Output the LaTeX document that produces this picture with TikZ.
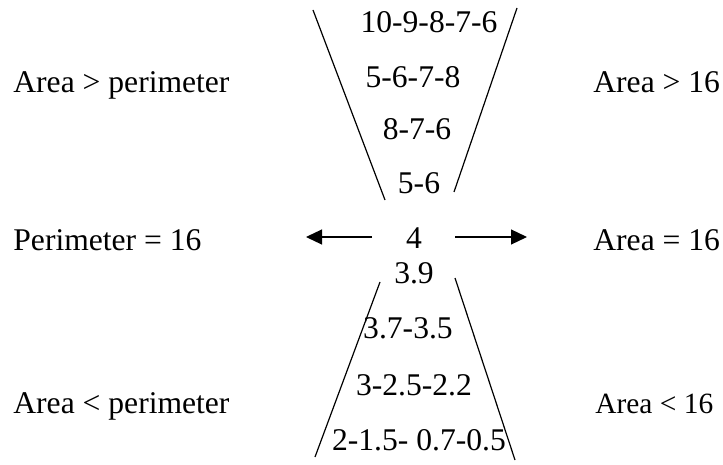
\documentclass[tikz,border=0pt]{standalone}
\usepackage{fontspec}
\setmainfont{Liberation Serif}
\usepackage{tikz}
\usetikzlibrary{arrows.meta}
\tikzset{
  numTxt/.style={anchor=base, inner sep=0pt, font=\fontsize{15.8}{19}\selectfont},
  sideTxt/.style={anchor=base west, inner sep=0pt, font=\fontsize{15.8}{19}\selectfont},
  funnel/.style={line width=0.6pt},
  pointer/.style={line width=0.6pt, -{Triangle[length=8pt,width=7.5pt]}}
}

\begin{document}
\begin{tikzpicture}[x=0.5pt, y=-0.5pt]
  \useasboundingbox (0,0) rectangle (723,465);
  % Upper funnel
  \draw[funnel] (313,10) -- (385,200);
  \draw[funnel] (517,8) -- (454,192);
  \node[numTxt] (up1) at (429,33) {10-9-8-7-6};
  \node[numTxt] (up2) at (413,88) {5-6-7-8};
  \node[numTxt] (up3) at (417,140) {8-7-6};
  \node[numTxt] (up4) at (419,193) {5-6};
  % Centre value and arrows
  \node[numTxt] (four) at (414,248) {4};
  \coordinate (arrL) at (372,237);
  \coordinate (arrLtip) at (306,237);
  \coordinate (arrR) at (455,237);
  \coordinate (arrRtip) at (527,237);
  \draw[pointer] (arrL) -- (arrLtip);
  \draw[pointer] (arrR) -- (arrRtip);
  % Lower funnel
  \node[numTxt] (lo1) at (414,283) {3.9};
  \draw[funnel] (380,282) -- (315,457);
  \draw[funnel] (455,278) -- (515,460);
  \node[numTxt] (lo2) at (408,338) {3.7-3.5};
  \node[numTxt] (lo3) at (414,395) {3-2.5-2.2};
  \node[numTxt] (lo4) at (419,450) {2-1.5- 0.7-0.5};
  % Left labels
  \node[sideTxt] (leftTop) at (13,93) {Area > perimeter};
  \node[sideTxt] (leftMid) at (13,250) {Perimeter = 16};
  \node[sideTxt] (leftBot) at (13,413) {Area < perimeter};
  % Right labels
  \node[sideTxt] (rightTop) at (593,93) {Area > 16};
  \node[sideTxt] (rightMid) at (593,250) {Area = 16};
  \node[sideTxt, font=\fontsize{14.7}{18}\selectfont] (rightBot) at (595,413) {Area < 16};
\end{tikzpicture}
\end{document}
